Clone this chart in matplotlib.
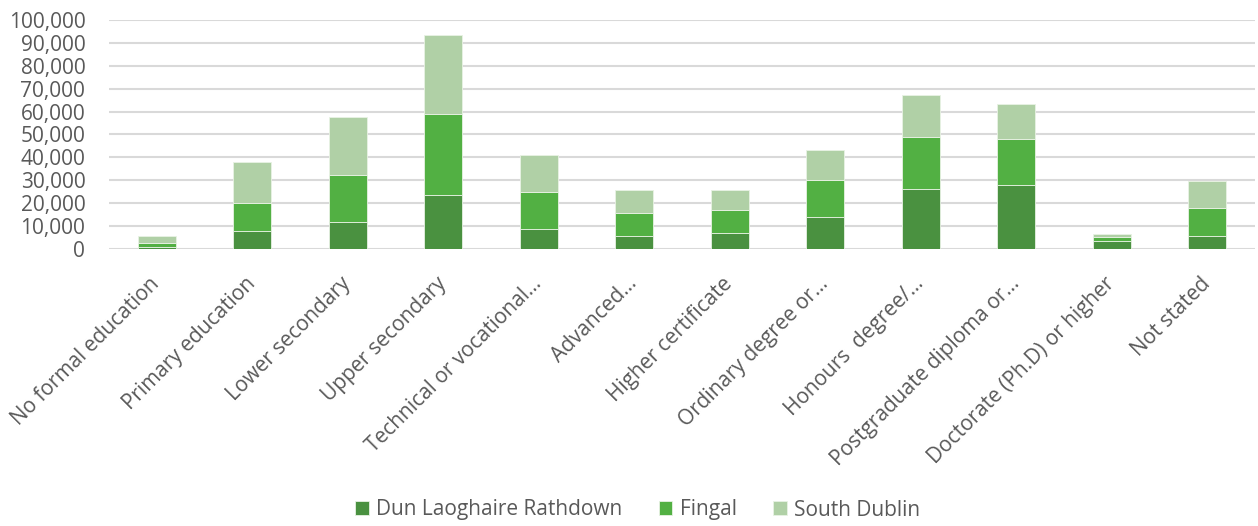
import matplotlib
matplotlib.use("Agg")
import matplotlib.pyplot as plt
import numpy as np
from matplotlib.ticker import FuncFormatter, MultipleLocator

# Dati (persone per livello di istruzione)
categories = [
    "No formal education", "Primary education", "Lower secondary",
    "Upper secondary", "Technical or vocational\u2026", "Advanced\u2026",
    "Higher certificate", "Ordinary degree or\u2026", "Honours  degree/\u2026",
    "Postgraduate diploma or\u2026", "Doctorate (Ph.D) or higher", "Not stated",
]
dun_laoghaire = [900, 7700, 11600, 23400, 8500, 5500, 6800, 13800, 26000, 27700, 3300, 5500]
fingal = [1800, 12100, 20800, 35500, 16500, 10300, 10200, 16400, 22700, 20500, 1800, 12400]
south_dublin = [2800, 18300, 25400, 34400, 15800, 10100, 8700, 13100, 18600, 15200, 1400, 11600]

series = [
    ("Dun Laoghaire Rathdown", dun_laoghaire, "#4a9140"),
    ("Fingal", fingal, "#52b043"),
    ("South Dublin", south_dublin, "#b0d0a6"),
]

plt.rcParams["font.family"] = ["Open Sans", "DejaVu Sans"]

fig = plt.figure(figsize=(12.58, 5.26), dpi=100)
ax = fig.add_axes([0.0866, 0.527, 0.911, 0.435])

x = np.arange(len(categories))
bottom = np.zeros(len(categories))
for name, vals, col in series:
    ax.bar(x, vals, width=0.4, bottom=bottom, color=col, label=name,
           edgecolor="#e8f2e4", linewidth=0.6, zorder=3)
    bottom += np.array(vals)

ax.set_ylim(0, 100000)
ax.set_xlim(-0.5, len(categories) - 0.5)
ax.yaxis.set_major_locator(MultipleLocator(10000))
ax.yaxis.set_major_formatter(FuncFormatter(lambda v, p: f"{int(v):,}"))
ax.grid(axis="y", color="#d9d9d9", linewidth=1.5, zorder=0)

for s in ax.spines.values():
    s.set_visible(False)
ax.tick_params(axis="both", length=0, labelsize=15, labelcolor="#595959")
ax.tick_params(axis="y", pad=17)
ax.tick_params(axis="x", pad=23)

ax.set_xticks(x)
ax.set_xticklabels(categories, rotation=45, ha="right", va="center",
                   rotation_mode="anchor")

fig.legend(loc="center", bbox_to_anchor=(0.507, 1 - 510 / 526), ncol=3, frameon=False,
           fontsize=15, labelcolor="#595959", handlelength=0.65, handleheight=0.65,
           columnspacing=1.75, handletextpad=0.35)

fig.savefig("out.png", dpi=100)
